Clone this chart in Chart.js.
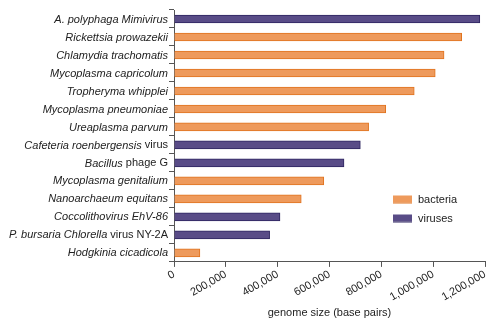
<!DOCTYPE html>
<html>
<head>
<meta charset="utf-8">
<script src="https://cdn.jsdelivr.net/npm/chart.js@4.4.1/dist/chart.umd.min.js"></script>
<style>
  html, body { margin: 0; padding: 0; background: #fff; }
  #wrap { width: 500px; height: 330px; }
</style>
</head>
<body>
<div id="wrap"><canvas id="chart"></canvas></div>
<script>
// organism names; text between *...* is set in italics
const categories = [
  '*A. polyphaga Mimivirus*',
  '*Rickettsia prowazekii*',
  '*Chlamydia trachomatis*',
  '*Mycoplasma capricolum*',
  '*Tropheryma whipplei*',
  '*Mycoplasma pneumoniae*',
  '*Ureaplasma parvum*',
  '*Cafeteria roenbergensis* virus',
  '*Bacillus* phage G',
  '*Mycoplasma genitalium*',
  '*Nanoarchaeum equitans*',
  '*Coccolithovirus EhV-86*',
  '*P. bursaria Chlorella* virus NY-2A',
  '*Hodgkinia cicadicola*'
];
const bacteria = [null, 1110000, 1042000, 1008000, 927000, 817000, 751000, null, null, 578000, 491000, null, null, 100000];
const viruses = [1180000, null, null, null, null, null, null, 719000, 656000, null, null, 409000, 369000, null];
const xTicks = [0, 200000, 400000, 600000, 800000, 1000000, 1200000];

const FONT = '"Liberation Sans", Arial, Helvetica, sans-serif';
const TEXT = '#222';
const AXIS = '#555';

function parseLabel(str) {
  // split "*italic* upright" into parts
  const parts = [];
  str.split('*').forEach((s, i) => {
    if (s) parts.push({ text: s, italic: i % 2 === 1 });
  });
  return parts;
}

const labelPlugin = {
  id: 'mixedLabels',
  afterDraw(chart) {
    const ctx = chart.ctx;
    const y = chart.scales.y;
    ctx.save();
    ctx.fillStyle = TEXT;
    ctx.textBaseline = 'middle';
    ctx.textAlign = 'left';
    categories.forEach((label, i) => {
      const parts = parseLabel(label);
      let total = 0;
      parts.forEach((p) => {
        ctx.font = (p.italic ? 'italic ' : '') + '11px ' + FONT;
        p.w = ctx.measureText(p.text).width;
        total += p.w;
      });
      let x = y.right - 6 - total;
      const py = y.getPixelForValue(i) + 0.5;
      parts.forEach((p) => {
        ctx.font = (p.italic ? 'italic ' : '') + '11px ' + FONT;
        ctx.fillText(p.text, x, py);
        x += p.w;
      });
    });

    // legend inside the plot area
    const items = chart.data.datasets.map((d) => ({ label: d.label, fill: d.backgroundColor, edge: d.borderColor }));
    ctx.font = '11px ' + FONT;
    items.forEach((it, i) => {
      const ly = 199.5 + i * 19;
      ctx.fillStyle = it.fill;
      ctx.fillRect(393, ly - 4, 19, 7);
      ctx.strokeStyle = it.edge;
      ctx.lineWidth = 1;
      ctx.beginPath();
      ctx.moveTo(393, ly + 3.5);
      ctx.lineTo(412, ly + 3.5);
      ctx.stroke();
      ctx.fillStyle = TEXT;
      ctx.fillText(it.label, 418, ly);
    });
    ctx.restore();
  }
};

const ctx = document.getElementById('chart').getContext('2d');
new Chart(ctx, {
  type: 'bar',
  data: {
    labels: categories,
    datasets: [
      {
        label: 'bacteria',
        data: bacteria,
        backgroundColor: '#EE9A5C',
        borderColor: '#E0731F',
        borderWidth: 1,
        barThickness: 8,
        skipNull: true
      },
      {
        label: 'viruses',
        data: viruses,
        backgroundColor: '#594C87',
        borderColor: '#2E2560',
        borderWidth: 1,
        barThickness: 8,
        skipNull: true
      }
    ]
  },
  options: {
    indexAxis: 'y',
    responsive: true,
    maintainAspectRatio: false,
    animation: false,
    layout: { padding: { top: 10, right: 15, left: 0, bottom: 10 } },
    plugins: {
      legend: { display: false },
      tooltip: { enabled: false }
    },
    scales: {
      y: {
        grid: { drawOnChartArea: false, drawTicks: true, tickLength: 5, color: AXIS, offset: true },
        border: { color: AXIS },
        ticks: { display: false },
        afterFit(scale) {
          scale.width = 174;
        }
      },
      x: {
        min: 0,
        max: 1200000,
        afterBuildTicks(scale) {
          scale.ticks = xTicks.map((v) => ({ value: v }));
        },
        grid: { drawOnChartArea: false, drawTicks: true, tickLength: 5, color: AXIS },
        border: { color: AXIS },
        ticks: {
          minRotation: 30,
          maxRotation: 30,
          padding: 1,
          color: TEXT,
          font: { family: FONT, size: 11 },
          callback: (v) => v.toLocaleString('en-US')
        },
        title: {
          display: true,
          text: 'genome size (base pairs)',
          color: TEXT,
          font: { family: FONT, size: 11 },
          padding: { top: 2, bottom: 0 }
        }
      }
    }
  },
  plugins: [labelPlugin]
});
</script>
</body>
</html>
